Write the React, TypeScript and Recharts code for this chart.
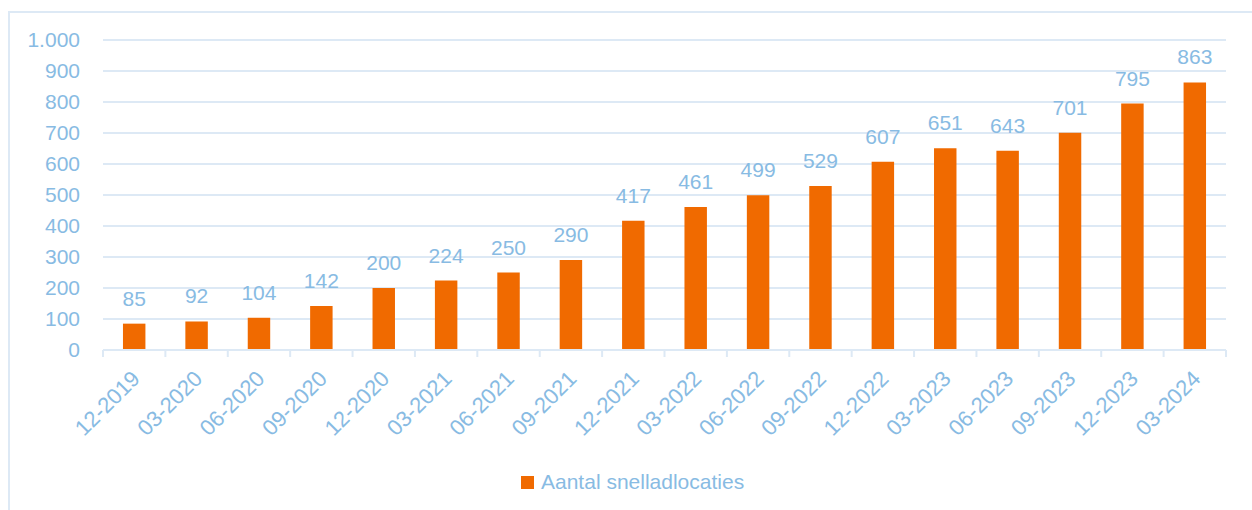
import React from "react";
import { BarChart, Bar, XAxis, YAxis, CartesianGrid, Legend, LabelList } from "recharts";

const periods = [
  "12-2019", "03-2020", "06-2020", "09-2020", "12-2020", "03-2021",
  "06-2021", "09-2021", "12-2021", "03-2022", "06-2022", "09-2022",
  "12-2022", "03-2023", "06-2023", "09-2023", "12-2023", "03-2024",
];
const locaties = [85, 92, 104, 142, 200, 224, 250, 290, 417, 461, 499, 529, 607, 651, 643, 701, 795, 863];
const yTicks = [0, 100, 200, 300, 400, 500, 600, 700, 800, 900, 1000];

const data = periods.map((p, i) => ({ period: p, value: locaties[i] }));

const blue = "#88bbe3";
const orange = "#f06a00";
const gridColor = "#dde9f5";
const font = "'Liberation Sans', Arial, sans-serif";

const fmt = (v: number) => v.toLocaleString("nl-NL");

function XTick(props: any) {
  const { x, y, payload, index } = props;
  const off = payload.offset || 0;
  const last = index === periods.length - 1;
  return (
    <g>
      <line x1={x - off} x2={x - off} y1={y} y2={y + 7} stroke={gridColor} strokeWidth={2} />
      {last && <line x1={x + off} x2={x + off} y1={y} y2={y + 7} stroke={gridColor} strokeWidth={2} />}
      <text
        x={x + 7}
        y={y + 30}
        textAnchor="end"
        transform={`rotate(-45 ${x + 7} ${y + 30})`}
        fill={blue}
        fontSize={22}
        fontFamily={font}
      >
        {payload.value}
      </text>
    </g>
  );
}

function LegendBox() {
  return (
    <div style={{ display: "flex", alignItems: "center", fontFamily: font, fontSize: 21, color: blue, height: 22 }}>
      <span style={{ width: 13, height: 13, background: orange, display: "inline-block", marginRight: 7 }} />
      <span>Aantal snelladlocaties</span>
    </div>
  );
}

export default function App() {
  return (
    <div style={{ position: "absolute", left: 0, top: 0, width: 1252, height: 510, overflow: "hidden", background: "#fff" }}>
      <div style={{ position: "absolute", left: 8, top: 11, width: 1300, height: 600, border: `2px solid ${gridColor}` }} />
      <BarChart
        width={1252}
        height={510}
        data={data}
        margin={{ top: 40, right: 26, bottom: 0, left: 0 }}
        barCategoryGap="68%"
      >
        <CartesianGrid vertical={false} stroke={gridColor} strokeWidth={2} />
        <YAxis
          width={103}
          domain={[0, 1000]}
          ticks={yTicks}
          interval={0}
          axisLine={false}
          tickLine={false}
          tickSize={0}
          tickMargin={23}
          tickFormatter={fmt}
          tick={{ fill: blue, fontSize: 21, fontFamily: font }}
        />
        <XAxis
          dataKey="period"
          height={138}
          interval={0}
          tickLine={false}
          tickSize={0}
          tickMargin={0}
          axisLine={{ stroke: gridColor, strokeWidth: 2 }}
          tick={<XTick />}
        />
        <Legend
          content={<LegendBox />}
          wrapperStyle={{ position: "absolute", left: 521, top: 471, width: 300, height: 22 }}
        />
        <Bar dataKey="value" fill={orange} isAnimationActive={false}>
          <LabelList dataKey="value" position="top" offset={18} fill={blue} fontSize={21} fontFamily={font} />
        </Bar>
      </BarChart>
    </div>
  );
}
